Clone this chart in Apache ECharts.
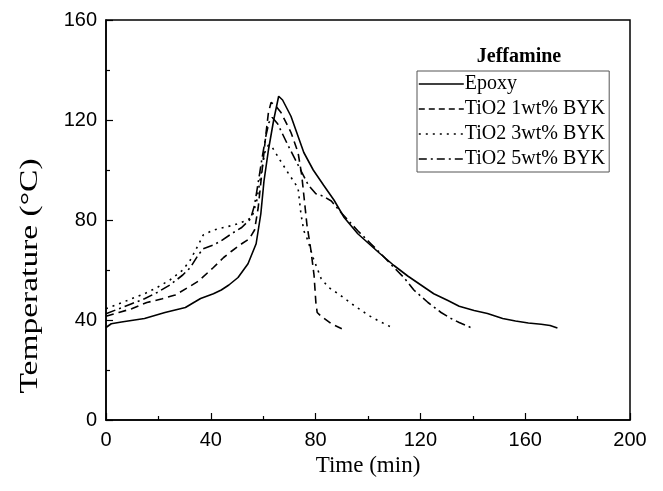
<!DOCTYPE html>
<html><head><meta charset="utf-8">
<script src="https://cdn.jsdelivr.net/npm/echarts@6/dist/echarts.min.js"></script>
<style>html,body{margin:0;padding:0;background:#fff}#c{width:663px;height:491px}</style>
</head><body><div id="c"></div>
<script>
const seriesNames = ['Epoxy', 'TiO2 1wt% BYK', 'TiO2 3wt% BYK', 'TiO2 5wt% BYK'];
const xTicks = [0, 40, 80, 120, 160, 200];
const yTicks = [0, 40, 80, 120, 160];
const epoxy = [[0,37],[2,38.5],[5.9,39.2],[14.7,40.6],[22.5,43],[30.3,45],[36.1,48.6],[41,50.5],[44,52],[46.9,54],[50.4,57],[54.2,62.5],[57.3,70.5],[59.1,82.5],[60.3,95.6],[62,108],[64,120],[65.9,129.5],[67.4,128],[70.6,121.5],[75.5,107],[79.1,100],[83,94],[87,88],[90.9,81],[96.1,74.5],[104.1,67],[109.9,61.8],[115.3,57.5],[120.2,54],[125.1,50.5],[130.5,47.8],[134.8,45.5],[140.5,43.8],[145.6,42.6],[151.4,40.6],[156.3,39.6],[161.2,38.8],[166.1,38.3],[169.5,37.8],[172.3,36.8]];
const tio2_1 = [[0,41.5],[4.9,43],[9.8,44.5],[15.6,47],[21.5,48.5],[26.4,50],[31.3,53],[35.2,55.5],[41,61],[44.9,65],[47.9,67.5],[51.8,70.5],[54.7,72.5],[56.7,76],[58.1,85],[59.6,100],[61.1,115],[62,123],[63,127],[64.5,126],[66.8,123],[70.6,115],[73.3,107],[74.7,98],[75.7,88],[76.7,78],[78.2,68],[79.4,58],[80.1,47],[80.6,43],[82.1,41.5],[86,38.5],[90,36.5]];
const tio2_3 = [[0,44.5],[4.9,46.5],[9.8,48.5],[14.7,50.5],[19.5,53],[24.4,56],[29.3,60],[32.2,64],[35.2,70],[37.1,74],[41,76],[44.9,77],[48.9,78],[52.8,79.5],[55.7,81],[57.6,88],[59.1,98],[60.6,107],[62,110],[63.5,109],[66.4,104],[69.4,99],[73.3,92.8],[74.4,82.5],[75.5,75.7],[77.1,71.7],[79,65],[82.1,56.6],[85,53],[88.5,50.6],[94.7,45.8],[100.3,41.8],[103.8,39.8],[109.7,36.7]];
const tio2_5 = [[0,42.5],[4.9,44.5],[9.8,46.5],[14.7,48.5],[19.5,51],[24.4,54],[29.3,58],[32.2,61],[35.2,66],[37.1,68.5],[41,70],[44,71.7],[47.9,74.5],[51.8,77],[55.2,80.5],[56.7,86],[58.1,95],[59.6,105],[61.1,114],[62.2,119],[63.5,121],[65.5,118.5],[69.4,110],[73.3,102],[77.2,94],[80.1,90.5],[83,89.5],[86,87.6],[89.7,83],[96.1,75.7],[101.1,70.5],[104.9,66.5],[109.9,61],[113.7,57],[117.5,52],[122.9,47],[127.9,43],[131.7,40.6],[134.8,39],[139.2,37]];

const dataSets = [epoxy, tio2_1, tio2_3, tio2_5];
const dashes = ['solid', [8,5], [2,5], [10,4,2,4]];
const legendDashes = ['solid', [6,4], [2,5], [8,4,2,4]];
const serif = 'Liberation Serif';
const sans = 'Liberation Sans';

const chart = echarts.init(document.getElementById('c'), null, {renderer:'canvas'});
chart.setOption({
  animation: false,
  backgroundColor: '#fff',
  grid: {left:106, right:33, top:20, bottom:71, show:true, borderColor:'#000', borderWidth:1.5, backgroundColor:'transparent'},
  title: {text:'Jeffamine', left:514, top:42, textAlign:'center', textStyle:{fontFamily:serif, fontWeight:'bold', fontSize:20, color:'#000'}},
  legend: {
    orient:'vertical', left:417, top:71,
    data: seriesNames.map((n,i)=>({name:n, itemStyle:{opacity:0}, lineStyle:{type:legendDashes[i], width:1.6, color:'#000', opacity:1}})),
    itemWidth:45, itemHeight:20, itemGap:5,
    borderColor:'#555', borderWidth:1, padding:[3,4,3,1],
    textStyle:{fontFamily:serif, fontSize:20, color:'#000', padding:[0,0,0,-4]}
  },
  graphic: [{
    type:'text', x:30, y:276, rotation:Math.PI/2, scaleX:1.34,
    style:{text:'Temperature (°C)', font:'25px "Liberation Serif"', fill:'#000', align:'center', verticalAlign:'middle'}
  }],
  xAxis: {
    type:'value', min:xTicks[0], max:xTicks[xTicks.length-1], interval:40,
    name:'Time (min)', nameLocation:'middle', nameGap:31,
    nameTextStyle:{fontFamily:serif, fontSize:23, color:'#000'},
    axisLine:{show:true, lineStyle:{color:'#000', width:1.5}},
    axisTick:{inside:true, length:7, lineStyle:{color:'#000', width:1.2}},
    minorTick:{show:true, splitNumber:2, length:4, lineStyle:{color:'#000', width:1.2}},
    splitLine:{show:false},
    axisLabel:{fontFamily:sans, fontSize:20, color:'#000', margin:10}
  },
  yAxis: {
    type:'value', min:yTicks[0], max:yTicks[yTicks.length-1], interval:40,
    axisLine:{show:true, lineStyle:{color:'#000', width:1.5}},
    axisTick:{inside:true, length:7, lineStyle:{color:'#000', width:1.2}},
    minorTick:{show:true, splitNumber:2, length:4, lineStyle:{color:'#000', width:1.2}},
    splitLine:{show:false},
    axisLabel:{fontFamily:sans, fontSize:20, color:'#000', margin:9}
  },
  series: seriesNames.map((n,i)=>({
    name:n, type:'line', data:dataSets[i], showSymbol:false, symbol:'none',
    smooth:false,
    lineStyle:{color:'#000', width:1.6, type:dashes[i]},
    itemStyle:{color:'#000'}
  }))
});
</script></body></html>
